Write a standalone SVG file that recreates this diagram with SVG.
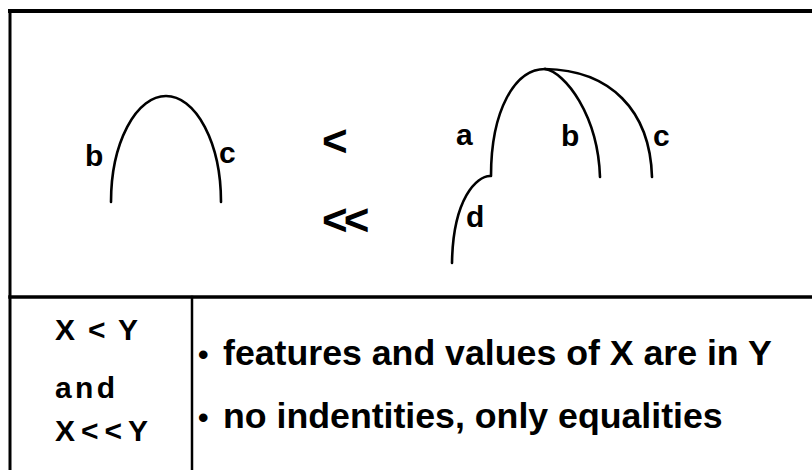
<svg xmlns="http://www.w3.org/2000/svg" width="812" height="470" viewBox="0 0 812 470">
<style>
.bg{fill:#ffffff}
.rule{stroke:#000;fill:none;stroke-linecap:square}
.arc{stroke:#000;fill:none;stroke-width:2.6;stroke-linecap:round}
.lbl{font-family:"Liberation Sans",Arial,sans-serif;font-weight:bold;font-size:30px;fill:#000}
.rel{font-family:"Liberation Sans",Arial,sans-serif;font-weight:bold;font-size:44px;fill:#000}
.cell{font-family:"Liberation Sans",Arial,sans-serif;font-weight:bold;font-size:30px;fill:#000}
.desc{font-family:"Liberation Sans",Arial,sans-serif;font-weight:bold;font-size:35.7px;fill:#000}
.bul{font-size:30px}
</style>
<rect class="bg" x="0" y="0" width="812" height="470"/>
<g id="frame">
  <line class="rule" x1="10" y1="11" x2="812" y2="11" stroke-width="4"/>
  <line class="rule" x1="10" y1="11" x2="10" y2="470" stroke-width="3"/>
  <line class="rule" x1="10" y1="297" x2="812" y2="297" stroke-width="3.5"/>
  <line class="rule" x1="192" y1="297" x2="192" y2="470" stroke-width="2.5"/>
</g>
<g id="connectors">
  <path class="arc" d="M111,202 A55,106 0 0 1 221,202"/>
  <path class="arc" d="M491,176 C491,110 515,69 545,69"/>
  <path class="arc" d="M490,176 C477,176 453,198 452,263"/>
  <path class="arc" d="M545,69 C565,72 598,115 600,177"/>
  <path class="arc" d="M545,69 C610,70 650,110 652,177"/>
</g>
<g id="tree-left">
  <text class="lbl" x="85" y="166">b</text>
  <text class="lbl" x="219" y="163">c</text>
</g>
<g id="relations">
  <text class="rel" x="322" y="156">&lt;</text>
  <text class="rel" x="322" y="235" letter-spacing="-4">&lt;&lt;</text>
</g>
<g id="tree-right">
  <text class="lbl" x="456" y="145">a</text>
  <text class="lbl" x="561" y="146">b</text>
  <text class="lbl" x="653" y="146">c</text>
  <text class="lbl" x="466" y="227">d</text>
</g>
<g id="table-left">
  <text class="cell" x="55" y="340" textLength="83" lengthAdjust="spacing">X &lt; Y</text>
  <text class="cell" x="55" y="398" textLength="60" lengthAdjust="spacing">and</text>
  <text class="cell" x="55" y="441" textLength="93" lengthAdjust="spacing">X&lt;&lt;Y</text>
</g>
<g id="table-right">
  <text class="desc" x="198" y="365"><tspan class="bul">•</tspan><tspan x="223">features and values of X are in Y</tspan></text>
  <text class="desc" x="198" y="428"><tspan class="bul">•</tspan><tspan x="223">no indentities, only equalities</tspan></text>
</g>
</svg>
